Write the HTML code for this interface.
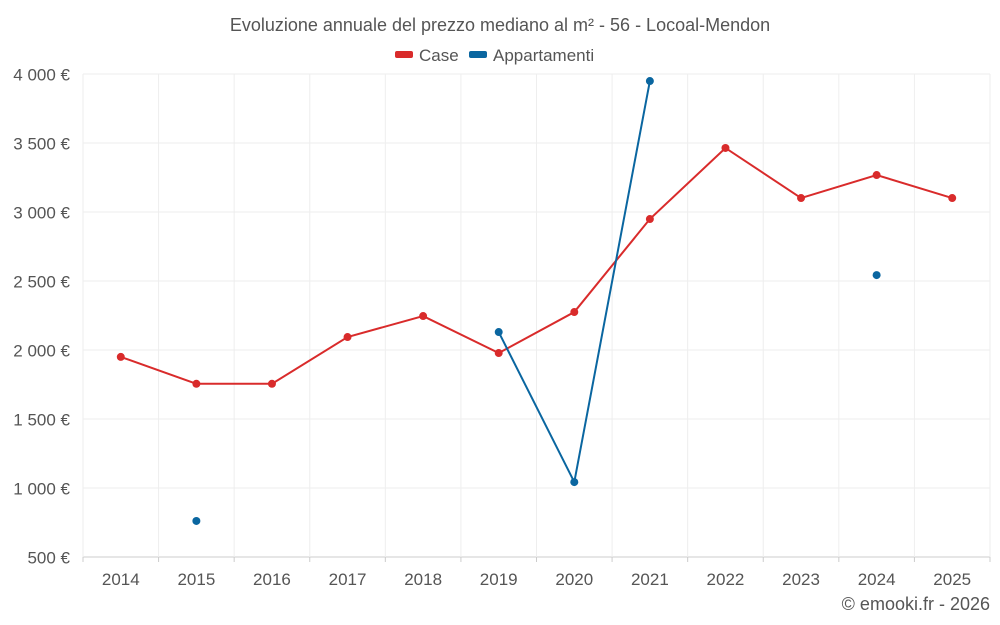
<!DOCTYPE html>
<html><head><meta charset="utf-8"><style>
body{margin:0;background:#fff;}
svg{display:block;font-family:"Liberation Sans",sans-serif;}
</style></head><body>
<svg id="chart" width="1000" height="625">
<text x="500" y="31" text-anchor="middle" font-size="18" fill="#555">Evoluzione annuale del prezzo mediano al m² - 56 - Locoal-Mendon</text>
<g><rect x="395" y="51" width="18" height="7" rx="2" fill="#d92b2b"/><text x="419" y="61" font-size="17" fill="#555">Case</text></g>
<g><rect x="469" y="51" width="18" height="7" rx="2" fill="#0a66a0"/><text x="493" y="61" font-size="17" fill="#555">Appartamenti</text></g>
<g id="grid"></g><g id="axes"></g><g id="series"></g>
<text x="990" y="610" text-anchor="end" font-size="18" fill="#555">© emooki.fr - 2026</text>
</svg>
<script>
const years=["2014","2015","2016","2017","2018","2019","2020","2021","2022","2023","2024","2025"];
const caseValues=[1950,1755,1755,2094,2246,1978,2275,2949,3464,3101,3268,3101];
const apptValues=[null,761,null,null,null,2130,1043,3949,null,null,2543,null];
const yTicks=[500,1000,1500,2000,2500,3000,3500,4000];
const yTickLabels=["500 €","1 000 €","1 500 €","2 000 €","2 500 €","3 000 €","3 500 €","4 000 €"];
const L=83,R=990,T=74,B=557,yMin=500,yMax=4000;
const NS="http://www.w3.org/2000/svg";
const step=(R-L)/years.length;
const xS=i=>L+step*(i+0.5);
const yS=v=>B-(v-yMin)/(yMax-yMin)*(B-T);
function mk(tag,attrs,parent){const e=document.createElementNS(NS,tag);for(const k in attrs)e.setAttribute(k,attrs[k]);parent.appendChild(e);return e;}
const grid=document.getElementById('grid'),axes=document.getElementById('axes'),ser=document.getElementById('series');
yTicks.forEach((v,i)=>{
 const l=mk('line',{x1:L,x2:R,y1:yS(v),y2:yS(v),stroke:i==0?'#ccc':'#eee'},grid);
 
 
 const t=mk('text',{x:70,y:yS(v)+6.5,'text-anchor':'end','font-size':17,fill:'#555'},axes);
 t.textContent=yTickLabels[i];
 
 
});
for(let i=0;i<=years.length;i++){
 const x=L+step*i;
 const l=mk('line',{x1:x,x2:x,y1:T,y2:B,stroke:'#eee'},grid);
 
 
 const tk=mk('line',{x1:x,x2:x,y1:B,y2:B+5,stroke:'#ccc'},axes);
 
 
}
years.forEach((y,i)=>{
 const t=mk('text',{x:xS(i),y:585,'text-anchor':'middle','font-size':17,fill:'#555'},axes);
 t.textContent=y;
 
 
});
function drawSeries(vals,color,name){
 let segs=[],cur=[];
 vals.forEach((v,i)=>{if(v==null){if(cur.length)segs.push(cur);cur=[];}else cur.push([xS(i),yS(v)]);});
 if(cur.length)segs.push(cur);
 segs.forEach(s=>{if(s.length>1){
  const p=mk('polyline',{points:s.map(a=>a.join(',')).join(' '),fill:'none',stroke:color,'stroke-width':2},ser);
  
  
 }});
 vals.forEach((v,i)=>{if(v==null)return;
  const c=mk('circle',{cx:xS(i),cy:yS(v),r:4,fill:color},ser);
  
  
 });
}
drawSeries(caseValues,'#d92b2b','case');
drawSeries(apptValues,'#0a66a0','appartamenti');
</script>
</body></html>
